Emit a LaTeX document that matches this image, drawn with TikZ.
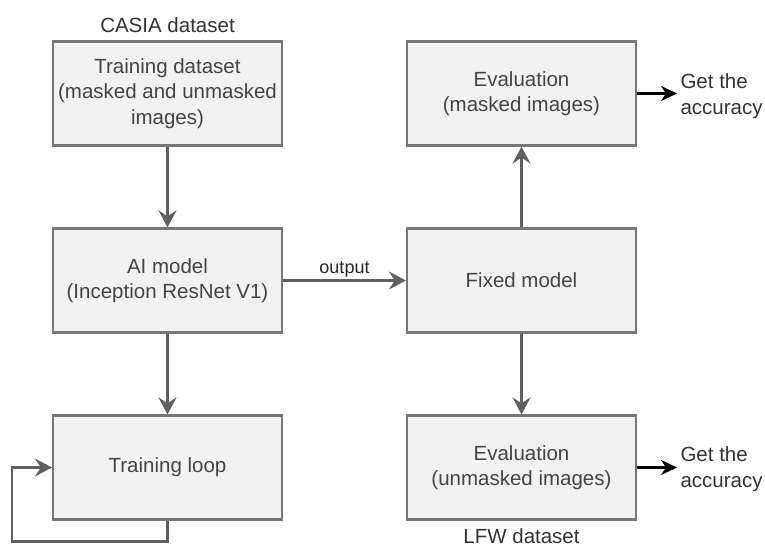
\documentclass[tikz,border=0pt]{standalone}
\usepackage{fontspec}
\setmainfont{Liberation Sans}
\usepackage{xcolor}
\usepackage{tikz}
\usetikzlibrary{arrows.meta, positioning}

\definecolor{boxfill}{HTML}{F2F2F2}
\definecolor{boxline}{HTML}{777777}
\definecolor{boxtext}{HTML}{444444}
\definecolor{flowline}{HTML}{606060}

\tikzset{
    stagebox/.style={draw=boxline, line width=2.2pt, fill=boxfill, text=boxtext,
        minimum width=229pt, minimum height=104pt, align=center,
        font=\fontsize{20.5}{25.5}\selectfont, inner sep=2pt},
    flow/.style={-{Stealth[length=17pt, width=18pt, inset=6pt]}, draw=flowline, line width=2.4pt},
    result/.style={-{Stealth[length=16pt, width=15pt, inset=5pt]}, black, line width=2.4pt},
    caption/.style={text=black!80, font=\fontsize{20.5}{25.5}\selectfont, align=left}
}

\begin{document}
\begin{tikzpicture}[x=1pt, y=-1pt]
    \useasboundingbox (0,0) rectangle (765,550);

    % Columna de entrenamiento
    \node[stagebox] (train) at (167.5,93.5) {Training dataset\\(masked and unmasked\\images)};
    \node[stagebox] (model) at (167.5,280.5) {AI model\\(Inception ResNet V1)};
    \node[stagebox] (loop) at (167.5,467.5) {Training loop};
    \node[caption, above=4pt of train] (casia) {CASIA dataset};

    % Columna de evaluacion
    \node[stagebox] (evalm) at (521.5,93.5) {Evaluation\\(masked images)};
    \node[stagebox] (fixed) at (521.5,280.5) {Fixed model};
    \node[stagebox] (evalu) at (521.5,467.5) {Evaluation\\(unmasked images)};
    \node[caption, below=4pt of evalu] (lfw) {LFW dataset};

    % Resultados
    \node[caption, anchor=west] (accm) at (677,96) {Get the\\accuracy};
    \node[caption, anchor=west] (accu) at (677,469) {Get the\\accuracy};

    % Flechas
    \draw[flow] (train) -- (model);
    \draw[flow] (model) -- (loop);
    \draw[flow] (model) -- node[above=-1pt, text=black!85, font=\fontsize{18}{20}\selectfont] {output} (fixed);
    \draw[flow] (fixed) -- (evalm);
    \draw[flow] (fixed) -- (evalu);
    \draw[flow] (loop.south) -- ++(0,21) -| (12,467.5) -- (loop.west);
    \draw[result] (evalm.east) -- (evalm.east -| accm.west);
    \draw[result] (evalu.east) -- (evalu.east -| accu.west);
\end{tikzpicture}
\end{document}
